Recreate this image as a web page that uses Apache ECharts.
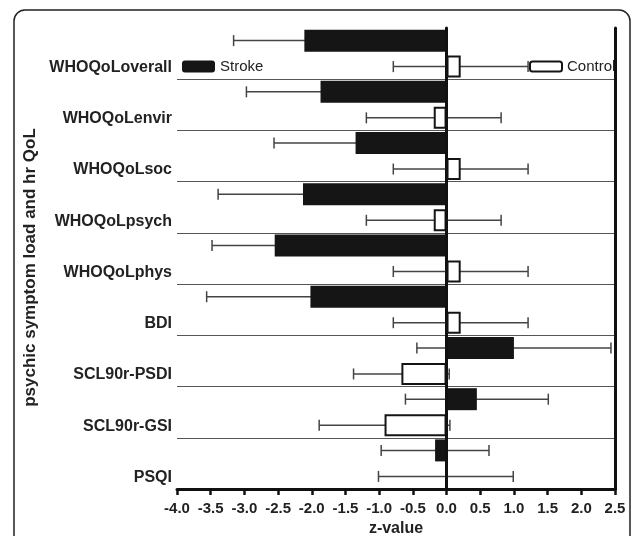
<!DOCTYPE html>
<html>
<head>
<meta charset="utf-8">
<script src="https://cdn.jsdelivr.net/npm/echarts@6/dist/echarts.min.js"></script>
<style>
html,body{margin:0;padding:0;background:#fff;}
#chart{width:633px;height:536px;}
</style>
</head>
<body>
<div id="chart"></div>
<script>
var categories = ['WHOQoLoverall','WHOQoLenvir','WHOQoLsoc','WHOQoLpsych','WHOQoLphys','BDI','SCL90r-PSDI','SCL90r-GSI','PSQI'];
var strokeMean = [-2.11, -1.87, -1.35, -2.13, -2.55, -2.02, 1.00, 0.45, -0.17];
var strokeSD   = [1.05, 1.10, 1.21, 1.26, 0.93, 1.54, 1.44, 1.06, 0.80];
var controlMean = [0.21, -0.19, 0.21, -0.19, 0.21, 0.21, -0.67, -0.92, -0.01];
var controlSD   = [1.00, 1.00, 1.00, 1.00, 1.00, 1.00, 0.71, 0.97, 1.00];
var xTicks = ['-4.0','-3.5','-3.0','-2.5','-2.0','-1.5','-1.0','-0.5','0.0','0.5','1.0','1.5','2.0','2.5'];

var FONT = 'Liberation Sans, Arial, sans-serif';
var BAR_W = 22, OFFSET = 13;

function errData(mean, sd) {
  return mean.map(function (m, i) { return [i, m - sd[i], m + sd[i]]; });
}
function errRender(dy) {
  return function (params, api) {
    var idx = api.value(0);
    var p1 = api.coord([api.value(1), idx]);
    var p2 = api.coord([api.value(2), idx]);
    var y = p1[1] + dy;
    var cap = 5.5;
    var st = { stroke: '#444', lineWidth: 1.5 };
    return {
      type: 'group',
      children: [
        { type: 'line', shape: { x1: p1[0], y1: y, x2: p2[0], y2: y }, style: st },
        { type: 'line', shape: { x1: p1[0], y1: y - cap, x2: p1[0], y2: y + cap }, style: st },
        { type: 'line', shape: { x1: p2[0], y1: y - cap, x2: p2[0], y2: y + cap }, style: st }
      ]
    };
  };
}

var chart = echarts.init(document.getElementById('chart'), null, { renderer: 'canvas' });
chart.setOption({
  animation: false,
  backgroundColor: '#fff',
  graphic: [{
    type: 'rect',
    shape: { x: 14, y: 10, width: 616, height: 560, r: 11 },
    style: { fill: 'none', stroke: '#222', lineWidth: 1.5 },
    z: -10
  }],
  grid: { left: 177, right: 18, top: 28, bottom: 47, containLabel: false, outerBoundsMode: 'none' },
  legend: [{
    data: [{ name: 'Stroke', itemStyle: { color: '#151515', borderWidth: 0 } }],
    left: 182, top: 59, itemWidth: 33, itemHeight: 12, itemGap: 5, padding: 0,
    textStyle: { fontFamily: FONT, fontSize: 15, color: '#222' },
    selectedMode: false
  }, {
    data: [{ name: 'Control', itemStyle: { color: '#fff', borderColor: '#151515', borderWidth: 2 } }],
    left: 529, top: 59, itemWidth: 32, itemHeight: 10, itemGap: 5, padding: 0,
    textStyle: { fontFamily: FONT, fontSize: 15, color: '#222' },
    selectedMode: false
  }],
  xAxis: {
    type: 'value', min: -4, max: 2.5, interval: 0.5,
    name: 'z-value', nameLocation: 'middle', nameGap: 32,
    nameTextStyle: { fontFamily: FONT, fontSize: 16, fontWeight: 'bold', color: '#222' },
    axisLine: { show: true, onZero: false, lineStyle: { color: '#111', width: 3 } },
    axisTick: { show: true, length: 6, lineStyle: { color: '#111', width: 2.5 } },
    axisLabel: {
      margin: 12, fontFamily: FONT, fontSize: 15, fontWeight: 'bold', color: '#222',
      formatter: function (v) { return xTicks[Math.round((v + 4) / 0.5)]; }
    },
    splitLine: { show: false }
  },
  yAxis: [{
    type: 'category', data: categories, inverse: true,
    name: 'psychic symptom load and hr QoL', nameLocation: 'middle', nameGap: 133,
    nameTextStyle: { fontFamily: FONT, fontSize: 17, fontWeight: 'bold', color: '#222', padding: [0, 18, 0, 0] },
    axisLine: { show: true, lineStyle: { color: '#111', width: 3 } },
    axisTick: { show: false },
    axisLabel: { margin: 5, fontFamily: FONT, fontSize: 16, fontWeight: 'bold', color: '#222', verticalAlign: 'top', padding: [6, 0, 0, 0] },
    splitLine: { show: true, showMinLine: false, lineStyle: { color: '#555', width: 1.2 } }
  }, {
    type: 'category', data: categories, inverse: true, position: 'right',
    axisLine: { show: true, lineStyle: { color: '#111', width: 3 } },
    axisTick: { show: false }, axisLabel: { show: false }, splitLine: { show: false }
  }],
  series: [{
    name: 'Stroke', type: 'bar', data: strokeMean, barWidth: BAR_W, barGap: '18%',
    itemStyle: { color: '#151515' }, z: 3,
    markLine: {
      silent: true, symbol: 'none', label: { show: false },
      lineStyle: { color: '#111', width: 2.5, type: 'solid' },
      data: [{ xAxis: 0 }]
    }
  }, {
    name: 'Control', type: 'bar', data: controlMean, barWidth: BAR_W,
    itemStyle: { color: '#fff', borderColor: '#151515', borderWidth: 2 }, z: 3
  }, {
    name: 'StrokeErr', type: 'custom', data: errData(strokeMean, strokeSD),
    renderItem: errRender(-OFFSET), z: 1, silent: true
  }, {
    name: 'ControlErr', type: 'custom', data: errData(controlMean, controlSD),
    renderItem: errRender(OFFSET), z: 1, silent: true
  }]
});
</script>
</body>
</html>
